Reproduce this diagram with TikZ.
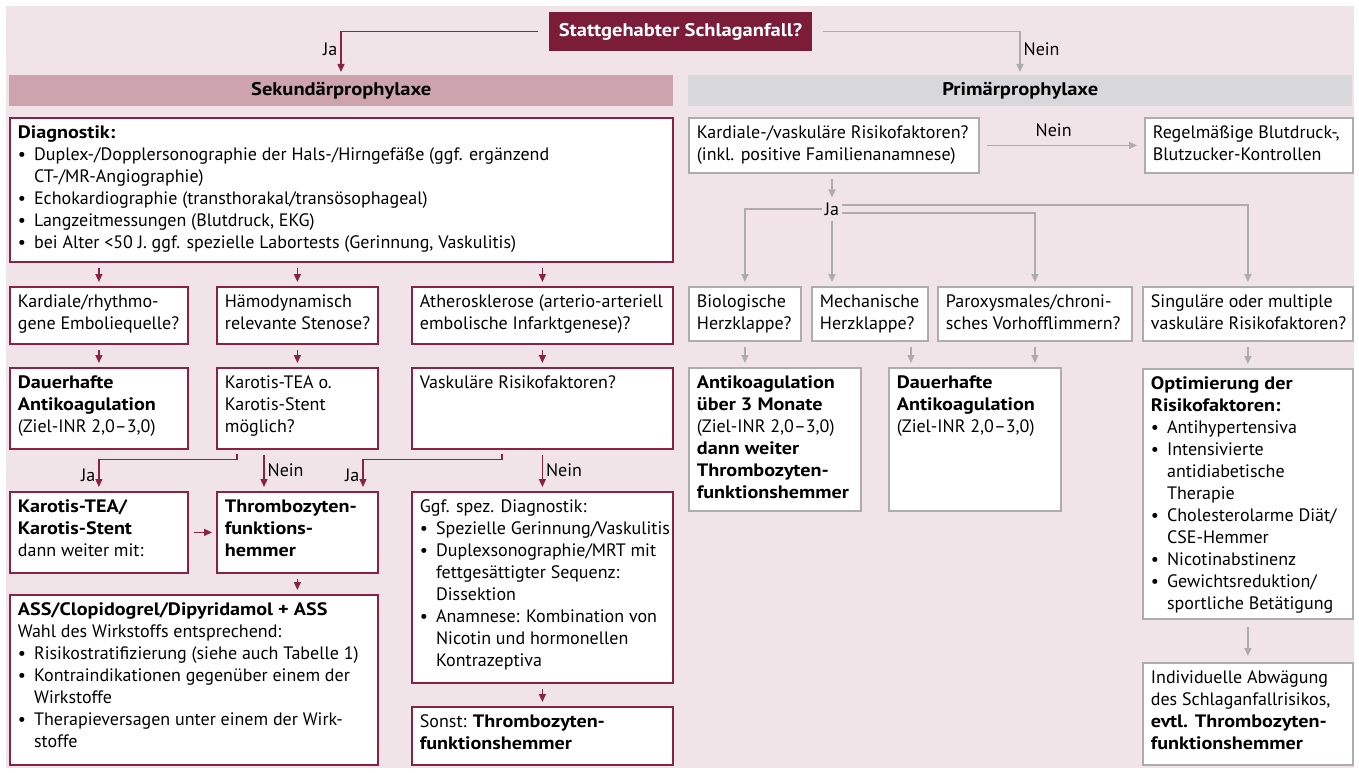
\documentclass[tikz,border=0pt]{standalone}
\usepackage{fontspec}
\setmainfont{PT Sans}[BoldFeatures={FakeStretch=1.12}]
\usetikzlibrary{arrows.meta,calc}
\definecolor{bgpink}{HTML}{F0E4E8}
\definecolor{darkred}{HTML}{7B1C38}
\definecolor{redline}{HTML}{8A2343}
\definecolor{sekband}{HTML}{CDA3AE}
\definecolor{primband}{HTML}{D8D8DA}
\definecolor{grayline}{HTML}{ADADAD}
\newcommand\bul{\par\noindent\hangindent=0.9em\hangafter=1\makebox[0.9em][l]{\textbullet}}
\newcommand\mkbox[7]{\node[#1,anchor=north west,inner xsep=8pt,inner ysep=7.5pt] (#2) at (#3,#4) {\begin{minipage}[t][\dimexpr #6pt-#4pt-15pt\relax][t]{\dimexpr #5pt-#3pt-16pt\relax}\raggedright\rightskip=-7pt plus 1fil #7\end{minipage}};}
\tikzset{
  rbox/.style={draw=redline,line width=1.8pt,fill=white,font=\fontsize{18}{22}\selectfont},
  gbox/.style={draw=grayline,line width=1.8pt,fill=white,font=\fontsize{18}{22}\selectfont},
  rarr/.style={draw=redline,line width=1.3pt,-{Triangle[length=8pt,width=7pt]},shorten <=5pt,shorten >=4pt},
  garr/.style={draw=grayline,line width=1.3pt,-{Triangle[length=8pt,width=7pt]},shorten <=5pt,shorten >=4pt},
  lbl/.style={font=\fontsize{18}{20}\selectfont,inner sep=3pt},
  band/.style={anchor=north west,minimum height=31pt,inner sep=0pt,font=\bfseries\fontsize{18.3}{20}\selectfont}
}
\begin{document}
\begin{tikzpicture}[x=1pt,y=-1pt]
\useasboundingbox (0,0) rectangle (1359,773);
\fill[white] (0,0) rectangle (1359,773);
\fill[bgpink] (6,6) rectangle (1354,768);
% top
\node[fill=darkred,text=white,font=\bfseries\fontsize{18.3}{20}\selectfont,minimum width=263pt,minimum height=39pt,inner sep=0pt] (top) at (680.5,31.5) {Stattgehabter Schlaganfall?};
\node[band,fill=sekband,minimum width=664pt] (sek) at (9,75) {Sekundärprophylaxe};
\node[band,fill=primband,minimum width=664pt] (prim) at (688,75) {Primärprophylaxe};
\coordinate (jx) at (341,0);
\coordinate (nx) at (1020,0);
\draw[rarr,shorten <=11pt,shorten >=3pt] (top.west) -| node[pos=0.7,left,lbl]{Ja} (sek.north -| jx);
\draw[garr,shorten <=11pt,shorten >=3pt] (top.east) -| node[pos=0.7,right,lbl]{Nein} (prim.north -| nx);
% left side
\mkbox{rbox}{diag}{9}{117}{672}{261}{\textbf{Diagnostik:}
\bul Duplex-/Dopplersonographie der Hals-/Hirngefäße (ggf. ergänzend\newline CT-/MR-Angiographie)
\bul Echokardiographie (transthorakal/transösophageal)
\bul Langzeitmessungen (Blutdruck, EKG)
\bul bei Alter <50 J. ggf. spezielle Labortests (Gerinnung, Vaskulitis)}
\mkbox{rbox}{ka1}{9}{286}{187}{343}{Kardiale/rhythmo-\\gene Emboliequelle?}
\mkbox{rbox}{ka2}{216}{286}{377}{343}{Hämodynamisch\\relevante Stenose?}
\mkbox{rbox}{ka3}{411}{286}{672}{343}{Atherosklerose (arterio-arteriell\\embolische Infarktgenese)?}
\mkbox{rbox}{da1}{9}{367}{187}{448}{\textbf{Dauerhafte\\Antikoagulation}\\(Ziel-INR 2,0--3,0)}
\mkbox{rbox}{kt}{216}{367}{377}{448}{Karotis-TEA o.\\Karotis-Stent\\möglich?}
\mkbox{rbox}{vr}{411}{367}{672}{448}{Vaskuläre Risikofaktoren?}
\mkbox{rbox}{kast}{9}{491}{187}{572}{\textbf{Karotis-TEA/\\Karotis-Stent}\\dann weiter mit:}
\mkbox{rbox}{tpf}{216}{491}{377}{572}{\textbf{Thrombozyten-\\funktions-\\hemmer}}
\mkbox{rbox}{ass}{9}{594}{377}{764}{\textbf{ASS/Clopidogrel/Dipyridamol + ASS}\\Wahl des Wirkstoffs entsprechend:
\bul Risikostratifizierung (siehe auch Tabelle 1)
\bul Kontraindikationen gegenüber einem der\newline Wirkstoffe
\bul Therapieversagen unter einem der Wirk-\newline stoffe}
\mkbox{rbox}{ggf}{411}{491}{672}{682}{Ggf. spez. Diagnostik:
\bul \mbox{Spezielle Gerinnung/Vaskulitis}
\bul Duplexsonographie/MRT mit\newline fettgesättigter Sequenz:\newline Dissektion
\bul Anamnese: Kombination von\newline Nicotin und hormonellen\newline Kontrazeptiva}
\mkbox{rbox}{sonst}{411}{706}{672}{764}{Sonst: \textbf{Thrombozyten-\\funktionshemmer}}
% left connectors
\draw[rarr] (diag.south -| ka1.north) -- (ka1.north);
\draw[rarr] (diag.south -| ka2.north) -- (ka2.north);
\draw[rarr] (diag.south -| ka3.north) -- (ka3.north);
\draw[rarr] (ka1.south) -- (da1.north);
\draw[rarr] (ka2.south) -- (kt.north);
\draw[rarr] (ka3.south) -- (vr.north);
\draw[rarr,shorten <=0pt] ($(kt.south west)+(21,4)$) -- ++(0,6) -| node[pos=0.75,left,lbl]{Ja} (kast.north);
\draw[rarr] ($(kt.south west)+(48,0)$) -- node[midway,right,lbl]{Nein} ($(tpf.north west)+(48,0)$);
\draw[rarr,shorten <=0pt] ($(vr.south west)+(91,4)$) -- ++(0,6) -| node[pos=0.75,left,lbl]{Ja} ($(tpf.north west)+(147,0)$);
\draw[rarr] (vr.south) -- node[midway,right,lbl]{Nein} (ggf.north);
\draw[rarr] (kast.east) -- (tpf.west);
\draw[rarr] (tpf.south) -- (tpf.south |- ass.north);
\draw[rarr] (ggf.south) -- (sonst.north);
% right side
\mkbox{gbox}{kv}{688}{117}{978}{172}{Kardiale-/vaskuläre Risikofaktoren?\\(inkl. positive Familienanamnese)}
\mkbox{gbox}{reg}{1144}{117}{1352}{172}{Regelmäßige Blutdruck-,\\Blutzucker-Kontrollen}
\mkbox{gbox}{bio}{688}{286}{800}{340}{Biologische\\Herzklappe?}
\mkbox{gbox}{mech}{811}{286}{927}{340}{Mechanische\\Herzklappe?}
\mkbox{gbox}{par}{937}{286}{1131}{340}{Paroxysmales/chroni-\\sches Vorhofflimmern?}
\mkbox{gbox}{sing}{1142}{286}{1352}{340}{Singuläre oder multiple\\vaskuläre Risikofaktoren?}
\mkbox{gbox}{ak}{688}{367}{860}{510}{\textbf{Antikoagulation\\über 3 Monate}\\(Ziel-INR 2,0--3,0)\\\textbf{dann weiter\\Thrombozyten-\\funktionshemmer}}
\mkbox{gbox}{dau}{888}{367}{1060}{510}{\textbf{Dauerhafte\\Antikoagulation}\\(Ziel-INR 2,0--3,0)}
\mkbox{gbox}{opt}{1142}{368}{1352}{618}{\textbf{Optimierung der\\Risikofaktoren:}
\bul Antihypertensiva
\bul Intensivierte\newline antidiabetische\newline Therapie
\bul Cholesterolarme Diät/\newline CSE-Hemmer
\bul Nicotinabstinenz
\bul Gewichtsreduktion/\newline sportliche Betätigung}
\mkbox{gbox}{ind}{1142}{662}{1352}{764}{Individuelle Abwägung\\des Schlaganfallrisikos,\\\textbf{evtl. Thrombozyten-\\funktionshemmer}}
% right connectors
\draw[garr,shorten <=7pt,shorten >=7pt] (kv.east) -- node[pos=0.45,above=5pt,lbl]{Nein} (reg.west);
\node[lbl] (ja) at (832,209) {Ja};
\draw[garr,shorten <=5pt,shorten >=2pt] (kv.south -| ja) -- (ja.north);
\draw[garr,shorten <=0pt] (ja.west) -| (bio.north);
\draw[garr,shorten <=2pt] (ja.south) -- (ja.south |- mech.north);
\draw[garr,shorten <=0pt] ([yshift=4pt]ja.east) -| (sing.north);
\draw[garr,shorten <=0pt] ([yshift=-4pt]ja.east) -| (par.north);
\coordinate (mx) at ($(dau.north west)+(23,0)$);
\draw[garr] (bio.south) -- (bio.south |- ak.north);
\draw[garr] (mech.south -| mx) -- (mx);
\draw[garr] (par.south) -- (par.south |- dau.north);
\draw[garr] (sing.south) -- (opt.north);
\draw[garr,shorten <=7pt,shorten >=6pt] (opt.south) -- (ind.north);
\end{tikzpicture}
\end{document}
